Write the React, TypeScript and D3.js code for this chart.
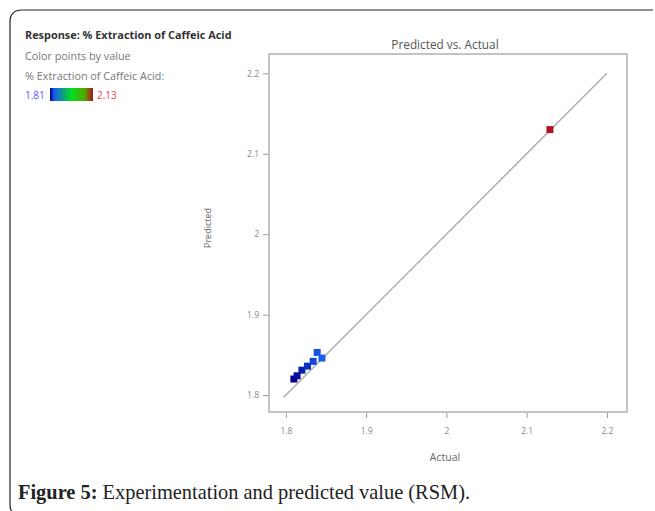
import React, { useEffect, useRef } from 'react';
import * as d3 from 'd3';

const actual = [1.81, 1.814, 1.82, 1.827, 1.834, 1.839, 1.845, 2.129];
const predicted = [1.82, 1.824, 1.831, 1.836, 1.842, 1.853, 1.846, 2.13];
const tickValues = [1.8, 1.9, 2.0, 2.1, 2.2];
const fitLine = [1.797, 2.2];
const colorRange = [1.81, 2.13];

const App = () => {
    const chartRef = useRef<SVGSVGElement>(null);

    useEffect(() => {
        if (!chartRef.current) return;
        const svg = d3.select(chartRef.current);
        svg.selectAll('*').remove();

        const width = 655;
        const height = 511;
        const box = { left: 269, top: 54, right: 627, bottom: 412 };
        const font = '"Open Sans", "DejaVu Sans", sans-serif';

        const x = d3.scaleLinear().domain([1.779, 2.225]).range([box.left, box.right]);
        const y = d3.scaleLinear().domain([1.779, 2.224]).range([box.bottom, box.top]);

        const lo = colorRange[0];
        const hi = colorRange[1];
        const span = hi - lo;
        const color = d3.scaleLinear<string>()
            .domain([lo, lo + span * 0.1, lo + span * 0.5, lo + span * 0.8, hi])
            .range(['#00008b', '#1a5cf0', '#00e020', '#50a800', '#b01020'])
            .clamp(true);

        svg.attr('width', width).attr('height', height);

        // outer frame (only top and left edges visible)
        svg.append('path')
            .attr('d', 'M653,10 H22 Q10,10 10,22 V505 Q10,511 14,513')
            .attr('fill', 'none')
            .attr('stroke', '#222')
            .attr('stroke-width', 1.2);

        // legend
        const lg = svg.append('g').attr('font-family', font);
        lg.append('text').attr('x', 25).attr('y', 39).text('Response: % Extraction of Caffeic Acid')
            .attr('font-size', 10.9).attr('font-weight', 'bold').attr('fill', '#333');
        lg.append('text').attr('x', 25).attr('y', 60).text('Color points by value')
            .attr('font-size', 10.8).attr('fill', '#777');
        lg.append('text').attr('x', 25).attr('y', 80).text('% Extraction of Caffeic Acid:')
            .attr('font-size', 10.8).attr('fill', '#777');
        lg.append('text').attr('x', 25).attr('y', 99).text(d3.format('.2f')(lo))
            .attr('font-size', 10).attr('fill', '#5a5aff');
        lg.append('text').attr('x', 97).attr('y', 99).text(d3.format('.2f')(hi))
            .attr('font-size', 10).attr('fill', '#ee4444');

        const grad = svg.append('defs').append('linearGradient').attr('id', 'cg');
        d3.range(0, 1.0001, 0.1).forEach(t => {
            grad.append('stop').attr('offset', t).attr('stop-color', color(lo + t * span));
        });
        lg.append('rect').attr('x', 50).attr('y', 88).attr('width', 43).attr('height', 13)
            .attr('fill', 'url(#cg)');

        // plot box
        svg.append('rect')
            .attr('x', box.left).attr('y', box.top)
            .attr('width', box.right - box.left).attr('height', box.bottom - box.top)
            .attr('fill', 'white').attr('stroke', '#c4c4c4').attr('stroke-width', 2);

        // axes
        const fmt = d3.format('');
        const xAxis = svg.append('g')
            .attr('transform', `translate(0,${box.bottom + 1})`)
            .call(d3.axisBottom(x).tickValues(tickValues).tickFormat(d => fmt(d as number)).tickSize(5).tickPadding(10));
        const yAxis = svg.append('g')
            .attr('transform', `translate(${box.left - 1},0)`)
            .call(d3.axisLeft(y).tickValues(tickValues).tickFormat(d => fmt(d as number)).tickSize(5).tickPadding(4));
        [xAxis, yAxis].forEach(a => {
            a.select('.domain').remove();
            a.selectAll('line').attr('stroke', '#999');
            a.selectAll('text').attr('fill', '#888').attr('font-size', 8.5).attr('font-family', font);
        });

        // 1:1 line
        svg.append('line')
            .attr('x1', x(fitLine[0])).attr('y1', y(fitLine[0]))
            .attr('x2', x(fitLine[1])).attr('y2', y(fitLine[1]))
            .attr('stroke', '#aaa').attr('stroke-width', 1.3);

        // points
        const s = 7;
        svg.selectAll('rect.pt')
            .data(actual)
            .enter()
            .append('rect')
            .attr('class', 'pt')
            .attr('x', d => x(d) - s / 2)
            .attr('y', (d, i) => y(predicted[i]) - s / 2)
            .attr('width', s).attr('height', s)
            .attr('fill', d => color(d));

        // titles
        svg.append('text').attr('x', 445).attr('y', 49).attr('text-anchor', 'middle')
            .attr('font-family', font).attr('font-size', 11.8).attr('fill', '#555')
            .text('Predicted vs. Actual');
        svg.append('text').attr('x', 445).attr('y', 461).attr('text-anchor', 'middle')
            .attr('font-family', font).attr('font-size', 10.5).attr('fill', '#666')
            .text('Actual');
        svg.append('text')
            .attr('transform', 'translate(211,228) rotate(-90)')
            .attr('text-anchor', 'middle')
            .attr('font-family', font).attr('font-size', 9).attr('fill', '#666')
            .text('Predicted');

        // caption
        const cap = svg.append('text').attr('x', 18).attr('y', 499)
            .attr('font-family', '"Liberation Serif", serif').attr('font-size', 20.4).attr('fill', '#222');
        cap.append('tspan').attr('font-weight', 'bold').text('Figure 5:');
        cap.append('tspan').text(' Experimentation and predicted value (RSM).');
    }, []);

    return (
        <svg ref={chartRef} width="655" height="511"
            style={{ position: 'absolute', left: 0, top: 0, background: 'white' }} />
    );
};

export default App;
